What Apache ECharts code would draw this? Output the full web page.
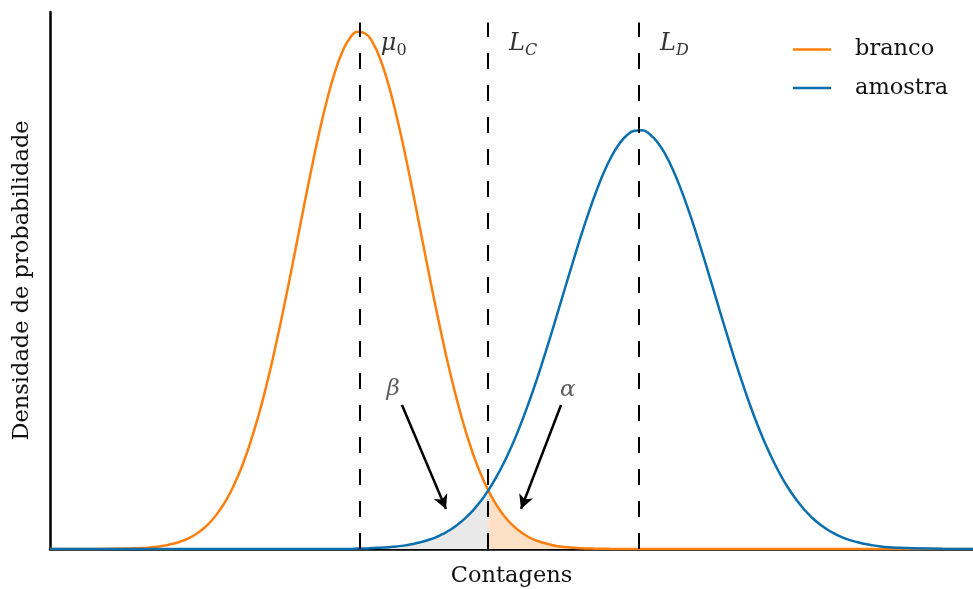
<!DOCTYPE html>
<html>
<head>
<meta charset="utf-8">
<script src="https://cdn.jsdelivr.net/npm/echarts@6/dist/echarts.min.js"></script>
<style>
  html, body { margin: 0; padding: 0; background: #ffffff; }
  #chart { width: 973px; height: 589px; }
</style>
</head>
<body>
<div id="chart"></div>
<script>
// Sample positions along the counts axis (L_C = 14.24 included so the shaded regions meet there)
const contagens = [
  0, 1, 2, 3,
  3.25, 3.5, 3.75, 4, 4.25, 4.5, 4.75, 5, 5.25, 5.5, 5.75, 6,
  6.25, 6.5, 6.75, 7, 7.25, 7.5, 7.75, 8, 8.25, 8.5, 8.75, 9,
  9.25, 9.5, 9.75, 10, 10.25, 10.5, 10.75, 11, 11.25, 11.5, 11.75, 12,
  12.25, 12.5, 12.75, 13, 13.25, 13.5, 13.75, 14, 14.24, 14.5, 14.75, 15,
  15.25, 15.5, 15.75, 16, 16.25, 16.5, 16.75, 17, 17.25, 17.5, 17.75, 18,
  18.25, 18.5, 18.75, 19, 19.25, 19.5, 19.75, 20, 20.25, 20.5, 20.75, 21,
  21.25, 21.5, 21.75, 22, 22.25, 22.5, 22.75, 23, 23.25, 23.5, 23.75, 24,
  24.25, 24.5, 24.75, 25, 25.25, 25.5, 25.75, 26, 26.25, 26.5, 26.75, 27,
  27.25, 27.5, 27.75, 28,
  29, 30
];

// Probability density of the blank
const branco = [
  0, 0, 0.0001, 0.0004,
  0.0006, 0.0009, 0.0014, 0.0020, 0.0029, 0.0041, 0.0058, 0.0080, 0.0109, 0.0147, 0.0193, 0.0252,
  0.0322, 0.0406, 0.0503, 0.0614, 0.0738, 0.0874, 0.1018, 0.1168, 0.1319, 0.1466, 0.1605, 0.1729,
  0.1834, 0.1916, 0.1970, 0.1994, 0.1987, 0.1950, 0.1883, 0.1791, 0.1676, 0.1545, 0.1402, 0.1252,
  0.1101, 0.0954, 0.0813, 0.0682, 0.0564, 0.0458, 0.0367, 0.0289, 0.0227, 0.0172, 0.0129, 0.0096,
  0.0070, 0.0050, 0.0035, 0.0025, 0.0017, 0.0011, 0.0008, 0.0005, 0.0003, 0.0002, 0.0001, 0.0001,
  0, 0, 0, 0, 0, 0, 0, 0, 0, 0, 0, 0,
  0, 0, 0, 0, 0, 0, 0, 0, 0, 0, 0, 0,
  0, 0, 0, 0, 0, 0, 0, 0, 0, 0, 0, 0,
  0, 0, 0, 0,
  0, 0
];

// Probability density of the sample
const amostra = [
  0, 0, 0, 0,
  0, 0, 0, 0, 0, 0, 0, 0, 0, 0, 0, 0,
  0, 0, 0, 0, 0, 0, 0, 0, 0, 0, 0, 0,
  0, 0, 0, 0.0002, 0.0002, 0.0004, 0.0005, 0.0007, 0.0010, 0.0013, 0.0018, 0.0025,
  0.0033, 0.0043, 0.0057, 0.0073, 0.0094, 0.0119, 0.0149, 0.0185, 0.0225, 0.0276, 0.0332, 0.0395,
  0.0466, 0.0544, 0.0628, 0.0718, 0.0813, 0.0911, 0.1010, 0.1108, 0.1204, 0.1294, 0.1377, 0.1451,
  0.1513, 0.1561, 0.1595, 0.1612, 0.1614, 0.1598, 0.1567, 0.1521, 0.1461, 0.1389, 0.1307, 0.1218,
  0.1123, 0.1025, 0.0926, 0.0828, 0.0732, 0.0642, 0.0556, 0.0477, 0.0406, 0.0341, 0.0284, 0.0234,
  0.0191, 0.0154, 0.0123, 0.0097, 0.0076, 0.0059, 0.0045, 0.0034, 0.0026, 0.0019, 0.0014, 0.0010,
  0.0007, 0.0005, 0.0004, 0.0003,
  0.0001, 0
];

// Reference levels on the counts axis
const MU0 = 10.07;
const LC = 14.24;
const LD = 19.144;
const Y_MAX = 0.207;
const GUIDE_TOP = 0.203;
const MARK_LABEL_Y = 0.1947;

// Error annotations: label position, arrow tail, arrow head
const betaNote = { at: [11.15, 0.0617], from: [11.44, 0.0555], to: [12.87, 0.0154] };
const alphaNote = { at: [16.83, 0.0613], from: [16.61, 0.0555], to: [15.31, 0.0154] };

const ORANGE = '#ff7f0e';
const BLUE = '#0a6fae';
const SERIF = 'DejaVu Serif';
const TITLE_SIZE = 22.5;

const pairs = (ys) => contagens.map((x, i) => [x, ys[i]]);
const brancoPts = pairs(branco);
const amostraPts = pairs(amostra);
const betaArea = amostraPts.filter(p => p[0] <= LC);
const alphaArea = brancoPts.filter(p => p[0] >= LC);

const guide = (x) => [{ coord: [x, 0] }, { coord: [x, GUIDE_TOP] }];
const arrow = (n) => [{ coord: n.from }, { coord: n.to }];

const mathRich = {
  m: { fontFamily: SERIF, fontStyle: 'italic', fontSize: 24, color: '#000' },
  s: { fontFamily: SERIF, fontStyle: 'italic', fontSize: 16, color: '#000', padding: [13, 0, 0, 0] },
  n: { fontFamily: SERIF, fontSize: 16, color: '#000', padding: [13, 0, 0, 0] },
  g: { fontFamily: SERIF, fontStyle: 'italic', fontSize: 23, color: '#333' }
};

const chart = echarts.init(document.getElementById('chart'), null, { renderer: 'canvas' });

chart.setOption({
  animation: false,
  backgroundColor: '#ffffff',
  grid: { left: 50, right: 0, top: 12, bottom: 40, containLabel: false, outerBoundsMode: 'none' },
  legend: {
    orient: 'vertical',
    left: 788,
    top: 33,
    icon: 'rect',
    itemWidth: 38,
    itemHeight: 2.5,
    itemGap: 15.5,
    align: 'left',
    data: ['branco', 'amostra'],
    textStyle: { fontFamily: SERIF, fontSize: TITLE_SIZE, color: '#111', padding: [0, 0, 0, 19] }
  },
  xAxis: {
    type: 'value',
    min: 0,
    max: 30,
    name: 'Contagens',
    nameLocation: 'middle',
    nameGap: 16,
    nameTextStyle: { fontFamily: SERIF, fontSize: TITLE_SIZE, color: '#111', verticalAlign: 'top' },
    axisLine: { lineStyle: { color: '#000', width: 2.5 } },
    axisTick: { show: false },
    axisLabel: { show: false },
    splitLine: { show: false }
  },
  yAxis: {
    type: 'value',
    min: 0,
    max: Y_MAX,
    name: 'Densidade de probabilidade',
    nameLocation: 'middle',
    nameRotate: 90,
    nameGap: 16,
    nameTextStyle: { fontFamily: SERIF, fontSize: TITLE_SIZE, color: '#111' },
    axisLine: { show: true, lineStyle: { color: '#000', width: 2.5 } },
    axisTick: { show: false },
    axisLabel: { show: false },
    splitLine: { show: false }
  },
  series: [
    {
      name: 'beta-area',
      type: 'line',
      data: betaArea,
      smooth: true,
      symbol: 'none',
      silent: true,
      lineStyle: { width: 0 },
      areaStyle: { color: '#e9e9e9', opacity: 1 },
      z: 1
    },
    {
      name: 'alpha-area',
      type: 'line',
      data: alphaArea,
      smooth: true,
      symbol: 'none',
      silent: true,
      lineStyle: { width: 0 },
      areaStyle: { color: '#fde0c5', opacity: 1 },
      z: 1
    },
    {
      name: 'branco',
      type: 'line',
      data: brancoPts,
      smooth: true,
      symbol: 'none',
      color: ORANGE,
      lineStyle: { color: ORANGE, width: 2.5 },
      z: 3
    },
    {
      name: 'amostra',
      type: 'line',
      data: amostraPts,
      smooth: true,
      symbol: 'none',
      color: BLUE,
      lineStyle: { color: BLUE, width: 2.5 },
      z: 3,
      markLine: {
        silent: true,
        symbol: ['none', 'none'],
        label: { show: false },
        lineStyle: { color: '#000', width: 2, type: [16, 16] },
        data: [guide(MU0), guide(LC), guide(LD)]
      }
    },
    {
      name: 'arrows',
      type: 'line',
      data: [],
      z: 4,
      markLine: {
        silent: true,
        symbol: ['none', 'arrow'],
        symbolSize: [11, 14],
        label: { show: false },
        lineStyle: { color: '#000', width: 2.5, type: 'solid' },
        data: [arrow(betaNote), arrow(alphaNote)]
      }
    },
    {
      name: 'labels',
      type: 'scatter',
      symbolSize: 0,
      silent: true,
      z: 5,
      label: {
        show: true,
        position: 'right',
        distance: 21,
        rich: mathRich,
        formatter: (p) => p.data.text
      },
      data: [
        { value: [MU0, MARK_LABEL_Y], text: '{m|μ}{n|0}' },
        { value: [LC, MARK_LABEL_Y], text: '{m|L}{s|C}' },
        { value: [LD, MARK_LABEL_Y], text: '{m|L}{s|D}' }
      ]
    },
    {
      name: 'greek',
      type: 'scatter',
      symbolSize: 0,
      silent: true,
      z: 5,
      label: {
        show: true,
        position: 'inside',
        rich: mathRich,
        formatter: (p) => p.data.text
      },
      data: [
        { value: betaNote.at, text: '{g|β}' },
        { value: alphaNote.at, text: '{g|α}' }
      ]
    }
  ]
});
</script>
</body>
</html>
